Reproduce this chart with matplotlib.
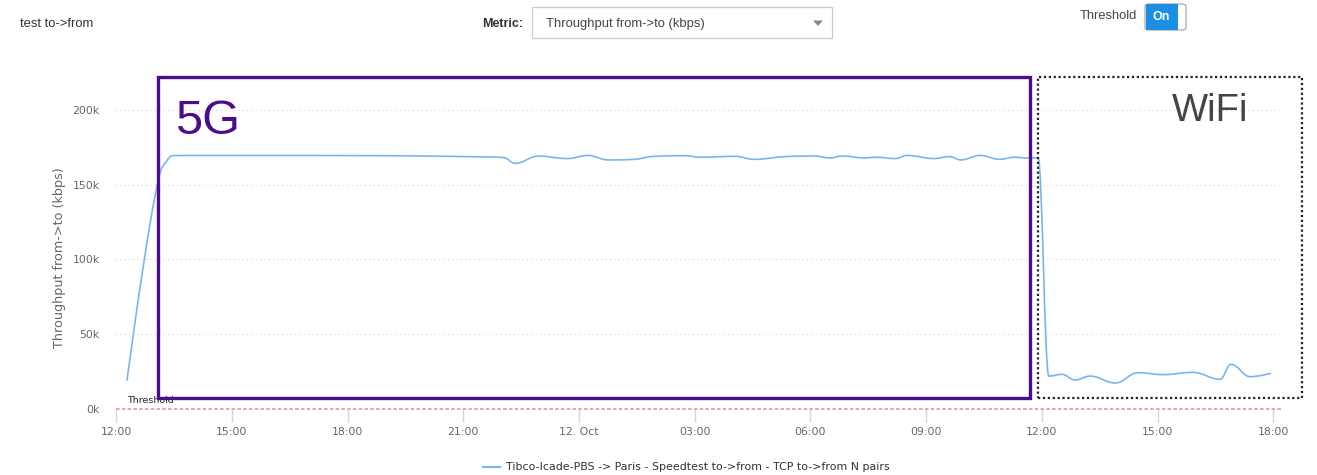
import numpy as np
import matplotlib
matplotlib.use("Agg")
import matplotlib.pyplot as plt
from matplotlib.path import Path
from matplotlib.patches import PathPatch, Rectangle, FancyBboxPatch, Polygon
from matplotlib.lines import Line2D

plt.rcParams['font.family'] = ['Liberation Sans', 'DejaVu Sans']

# ---------------- data ----------------
# hours since 11 Oct 12:00
hours_5g = [0.28, 0.70, 1.10, 1.30, 1.48, 3.0, 6.0, 8.0, 9.5, 10.05, 10.35,
            10.94, 11.7, 12.24, 12.75, 13.45, 13.84, 14.75, 15.14, 16.04, 16.54,
            17.34, 18.12, 18.5, 18.83, 19.4, 19.7, 20.2, 20.5, 21.2, 21.6, 21.9,
            22.4, 22.9, 23.3, 23.6, 23.9]
values_5g = [19, 95, 154, 165.5, 169.5, 169.6, 169.5, 169.2, 168.6, 168.2, 164.3,
             169.2, 167.5, 169.6, 166.6, 167.0, 168.8, 169.4, 168.4, 169.0, 167.0,
             168.8, 169.2, 167.9, 169.2, 167.9, 168.4, 167.5, 169.6, 167.5, 168.8, 166.6,
             169.6, 167.0, 168.4, 167.9, 168.0]
hours_wifi = [24.18, 24.52, 24.86, 25.25, 25.9, 26.5, 27.14, 27.92, 28.62, 28.9,
              29.4, 29.94]
values_wifi = [22, 23.2, 19.4, 22, 17.4, 24.3, 23, 24.5, 19.9, 29.9, 21.6, 23.9]

tick_hours = [0, 3, 6, 9, 12, 15, 18, 21, 24, 27, 30]
tick_labels = ['12:00', '15:00', '18:00', '21:00', '12. Oct', '03:00', '06:00',
               '09:00', '12:00', '15:00', '18:00']
y_ticks = [0, 50, 100, 150, 200]
y_tick_labels = ['0k', '50k', '100k', '150k', '200k']
threshold_value = 0

series_name = 'Tibco-Icade-PBS -> Paris - Speedtest to->from - TCP to->from N pairs'

hours = hours_5g + hours_wifi
values = values_5g + values_wifi


def spline_path(xs, ys, smoothing=1.5):
    """Highcharts-like spline path (cubic Bezier segments, clamped controls)."""
    xs = np.asarray(xs, float)
    ys = np.asarray(ys, float)
    n = len(xs)
    verts = [(xs[0], ys[0])]
    codes = [Path.MOVETO]
    denom = smoothing + 1
    left = [None] * n
    right = [None] * n
    for i in range(1, n - 1):
        lx = (smoothing * xs[i] + xs[i - 1]) / denom
        ly = (smoothing * ys[i] + ys[i - 1]) / denom
        rx = (smoothing * xs[i] + xs[i + 1]) / denom
        ry = (smoothing * ys[i] + ys[i + 1]) / denom
        if rx != lx:
            corr = ((ry - ly) * (rx - xs[i])) / (rx - lx) + ys[i] - ry
        else:
            corr = 0
        ly += corr
        ry += corr
        if ly > ys[i - 1] and ly > ys[i]:
            ly = max(ys[i - 1], ys[i]); ry = 2 * ys[i] - ly
        elif ly < ys[i - 1] and ly < ys[i]:
            ly = min(ys[i - 1], ys[i]); ry = 2 * ys[i] - ly
        if ry > ys[i + 1] and ry > ys[i]:
            ry = max(ys[i + 1], ys[i]); ly = 2 * ys[i] - ry
        elif ry < ys[i + 1] and ry < ys[i]:
            ry = min(ys[i + 1], ys[i]); ly = 2 * ys[i] - ry
        left[i] = (lx, ly)
        right[i] = (rx, ry)
    for i in range(1, n):
        c1 = right[i - 1] if right[i - 1] is not None else (xs[i - 1], ys[i - 1])
        c2 = left[i] if left[i] is not None else (xs[i], ys[i])
        verts += [c1, c2, (xs[i], ys[i])]
        codes += [Path.CURVE4] * 3
    return Path(verts, codes)


W, H = 1317, 475
fig = plt.figure(figsize=(W / 100, H / 100), dpi=100)
fig.patch.set_facecolor('white')

ax_left, ax_right = 115, 1283
ax_top, ax_bottom = 72.6, 409
ax = fig.add_axes([ax_left / W, 1 - ax_bottom / H, (ax_right - ax_left) / W,
                   (ax_bottom - ax_top) / H])
ax.set_xlim(-0.03, 30.25)
ax.set_ylim(0, 225)
for s in ax.spines.values():
    s.set_visible(False)

# grid
for yv in y_ticks[1:]:
    ax.axhline(yv, color='#d8d8d8', lw=0.9, ls=(0, (1, 2.5)), zorder=1)

# threshold
ax.plot([0, 30.25], [threshold_value, threshold_value], color='#e8a0a8', lw=1.3,
        ls=(0, (2, 1.2)), zorder=2, clip_on=False)
ax.text(0.28, threshold_value + 2.5, 'Threshold', fontsize=6.8, color='#222222',
        ha='left', va='bottom', family='DejaVu Sans')

# series
path = spline_path(hours, values)
ax.add_patch(PathPatch(path, facecolor='none', edgecolor='#7cb5ec', lw=1.2, zorder=4))

# ticks
ax.set_xticks(tick_hours)
ax.set_xticklabels(tick_labels, fontsize=7.8, color='#666666', family='DejaVu Sans')
ax.tick_params(axis='x', length=9, width=1, color='#ccd6eb', pad=4)
ax.set_yticks(y_ticks)
ax.set_yticklabels(y_tick_labels, fontsize=7.8, color='#666666', family='DejaVu Sans')
ax.tick_params(axis='y', length=0, pad=11)
fig.text(60 / W, 1 - 258 / H, 'Throughput from->to (kbps)', fontsize=9.2, color='#666666',
         rotation=90, ha='center', va='center', family='DejaVu Sans')

# annotation boxes (figure pixel coords)
def fig_rect(x0, y0, x1, y1, **kw):
    r = Rectangle((x0 / W, 1 - y1 / H), (x1 - x0) / W, (y1 - y0) / H,
                  transform=fig.transFigure, fill=False, **kw)
    fig.add_artist(r)
    return r

fig_rect(158, 77, 1030, 398, edgecolor='#4b0c8f', lw=2.4, zorder=10)
fig_rect(1038, 77, 1302, 398, edgecolor='#222222', lw=1.6, ls=(0, (1, 1.2)), zorder=10)
fig.text(175 / W, 1 - 134 / H, '5G', fontsize=35, color='#4b0c8f', ha='left', va='baseline')
fig.text(1172 / W, 1 - 121 / H, 'WiFi', fontsize=27.5, color='#444444', ha='left', va='baseline')

# header
fig.text(20 / W, 1 - 24 / H, 'test to->from', fontsize=9.4, color='#333333', va='center')
fig.text(523 / W, 1 - 24 / H, 'Metric:', fontsize=9, color='#333333', va='center',
         ha='right', fontweight='bold')
fig.add_artist(Rectangle((532 / W, 1 - 38 / H), 300 / W, 31 / H, transform=fig.transFigure,
                         facecolor='white', edgecolor='#cccccc', lw=0.9))
fig.text(546 / W, 1 - 24 / H, 'Throughput from->to (kbps)', fontsize=9.4, color='#444444',
         va='center')
fig.add_artist(Polygon([(813 / W, 1 - 20.5 / H), (823 / W, 1 - 20.5 / H), (818 / W, 1 - 26 / H)],
                       closed=True, transform=fig.transFigure, facecolor='#888888',
                       edgecolor='none'))
fig.text(1137 / W, 1 - 16 / H, 'Threshold', fontsize=9.3, color='#444444', va='center',
         ha='right')
fig.add_artist(FancyBboxPatch((1145 / W, 1 - 30 / H), 41 / W, 26 / H,
                              boxstyle='round,pad=0,rounding_size=0.004',
                              transform=fig.transFigure, facecolor='white',
                              edgecolor='#aaaaaa', lw=0.9))
fig.add_artist(Rectangle((1145.5 / W, 1 - 29.5 / H), 32 / W, 25 / H, transform=fig.transFigure,
                         facecolor='#1a8fe3', edgecolor='none'))
fig.text(1161 / W, 1 - 17 / H, 'On', fontsize=9, color='white', fontweight='bold',
         va='center', ha='center')

# legend
fig.add_artist(Line2D([483 / W, 500 / W], [1 - 467 / H, 1 - 467 / H], transform=fig.transFigure,
                      color='#7cb5ec', lw=1.5))
fig.text(506 / W, 1 - 467 / H, series_name, fontsize=7.95, color='#333333', va='center',
         family='DejaVu Sans')

fig.savefig('out.png', dpi=100, facecolor='white')
